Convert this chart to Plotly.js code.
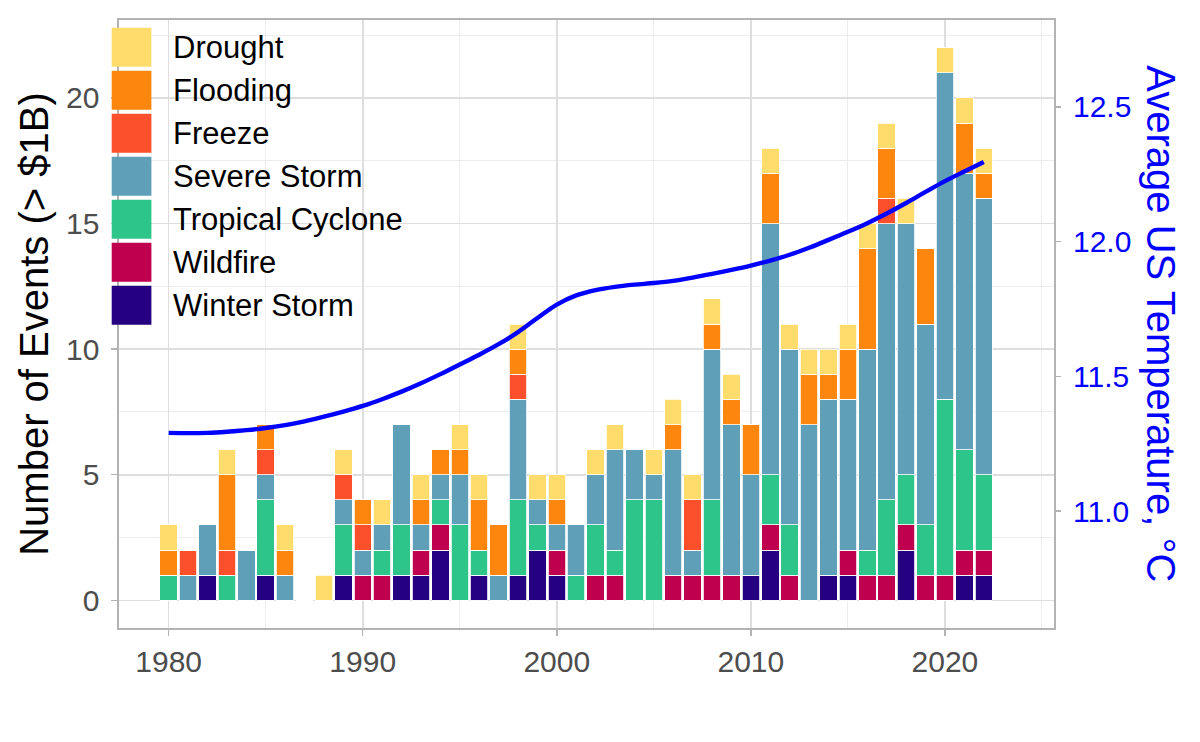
<!DOCTYPE html>
<html>
<head>
<meta charset="utf-8">
<script src="https://cdn.plot.ly/plotly-3.0.1.min.js"></script>
<style>html,body{margin:0;padding:0;background:#fff;}#chart{width:1200px;height:742px;}</style>
</head>
<body>
<div id="chart"></div>
<script>
const years = [1980,1981,1982,1983,1984,1985,1986,1987,1988,1989,1990,1991,1992,1993,1994,1995,1996,1997,1998,1999,2000,2001,2002,2003,2004,2005,2006,2007,2008,2009,2010,2011,2012,2013,2014,2015,2016,2017,2018,2019,2020,2021,2022];

const winterStorm     = [0,0,1,0,0,1,0,0,0,1, 0,0,1,1,2,0,1,0,1,2, 1,0,0,0,0,0,0,0,0,0, 1,2,0,0,1,1,0,0,2,0, 0,1,1];
const wildfire        = [0,0,0,0,0,0,0,0,0,0, 1,1,0,1,1,0,0,0,0,0, 1,0,1,1,0,0,1,1,1,1, 0,1,1,0,0,1,1,1,1,1, 1,1,1];
const tropicalCyclone = [1,0,0,1,0,3,0,0,0,2, 0,1,2,0,1,3,1,0,3,1, 0,1,2,1,4,4,0,0,3,0, 0,2,2,0,0,0,1,3,2,2, 7,4,3];
const severeStorm     = [0,1,2,0,2,1,1,0,0,1, 1,1,4,1,1,2,0,1,4,1, 1,2,2,4,2,1,5,1,6,6, 4,10,7,7,7,6,8,11,10,8, 13,11,11];
const freeze          = [0,1,0,1,0,1,0,0,0,1, 1,0,0,0,0,0,0,0,1,0, 0,0,0,0,0,0,0,2,0,0, 0,0,0,0,0,0,0,1,0,0, 0,0,0];
const flooding        = [1,0,0,3,0,1,1,0,0,0, 1,0,0,1,1,1,2,2,1,0, 1,0,0,0,0,0,1,0,1,1, 2,2,0,2,1,2,4,2,0,3, 0,2,1];
const drought         = [1,0,0,1,0,0,1,0,1,1, 0,1,0,1,0,1,1,0,1,1, 1,0,1,1,0,1,1,1,1,1, 0,1,1,1,1,1,1,1,1,0, 1,1,1];

const avgTemp = [11.290,11.289,11.290,11.294,11.300,11.308,11.319,11.333,11.350,11.369,
                 11.390,11.415,11.443,11.474,11.508,11.544,11.580,11.619,11.664,11.716,
                 11.766,11.800,11.820,11.832,11.840,11.846,11.854,11.866,11.880,11.895,
                 11.911,11.929,11.951,11.977,12.006,12.036,12.068,12.104,12.143,12.184,
                 12.224,12.260,12.295];

// legend order (top to bottom); stack order is the reverse
const categories = ["Drought","Flooding","Freeze","Severe Storm","Tropical Cyclone","Wildfire","Winter Storm"];
const seriesValues = [drought, flooding, freeze, severeStorm, tropicalCyclone, wildfire, winterStorm];
const colors = ["#FFDC6C","#FD870E","#FC4F2C","#5F9FB8","#2EC58A","#BF004E","#250080"];

const FONT = "Liberation Sans, Arial, Helvetica, sans-serif";

const traces = [];
for (let i = categories.length - 1; i >= 0; i--) {
  traces.push({
    type: "bar",
    name: categories[i],
    x: years,
    y: seriesValues[i],
    width: 0.9,
    marker: {color: colors[i], line: {color: "#FFFFFF", width: 0.8}},
    showlegend: false,
    hoverinfo: "x+y+name"
  });
}
traces.push({
  type: "scatter",
  mode: "lines",
  name: "Average US Temperature",
  x: years,
  y: avgTemp,
  yaxis: "y2",
  line: {color: "#0000FF", width: 4.4, shape: "spline", smoothing: 1},
  showlegend: false
});

// plot-area geometry (pixels)
const L = 119.3, R = 1054.3, T = 20, B = 627.7;
const W = R - L, H = B - T;
const px2x = p => (p - L) / W;
const px2y = p => (B - p) / H;

const shapes = [];
const annotations = [];
categories.forEach((c, i) => {
  const top = 27.7 + 43 * i;
  shapes.push({
    type: "rect", xref: "paper", yref: "paper", layer: "above",
    x0: px2x(112), x1: px2x(151.7), y0: px2y(top + 39), y1: px2y(top),
    fillcolor: colors[i], line: {width: 0}
  });
  annotations.push({
    xref: "paper", yref: "paper", x: px2x(171), y: px2y(top + 19.5),
    xanchor: "left", yanchor: "middle", showarrow: false,
    text: c, font: {family: FONT, size: 31, color: "#000000"}
  });
});
annotations.push({
  xref: "paper", yref: "paper", x: px2x(1161), y: 0.5,
  xanchor: "center", yanchor: "middle", showarrow: false, textangle: 90,
  text: "Average US Temperature, °C",
  font: {family: FONT, size: 40, color: "#0000FF"}
});

const layout = {
  width: 1200, height: 742,
  margin: {l: L, r: 1200 - R, t: T, b: 742 - B, pad: 0},
  paper_bgcolor: "#FFFFFF", plot_bgcolor: "#FFFFFF",
  barmode: "stack", bargap: 0,
  font: {family: FONT},
  showlegend: false,
  xaxis: {
    range: [1977.44, 2025.62],
    tickvals: [1980, 1990, 2000, 2010, 2020],
    ticktext: ["1980","1990","2000","2010","2020"],
    ticks: "outside", ticklen: 6, tickwidth: 1.5, tickcolor: "#B3B3B3",
    tickfont: {family: FONT, size: 30, color: "#4D4D4D"},
    showgrid: true, gridcolor: "#DEDEDE", gridwidth: 1.6,
    minor: {tickvals: [1985, 1995, 2005, 2015, 2025], showgrid: true, gridcolor: "#EBEBEB", gridwidth: 0.9, ticks: ""},
    showline: true, linecolor: "#B3B3B3", linewidth: 1.6, mirror: true,
    zeroline: false, fixedrange: true
  },
  yaxis: {
    range: [-1.1, 23.1],
    tickvals: [0, 5, 10, 15, 20],
    ticks: "outside", ticklen: 6, tickwidth: 1.5, tickcolor: "#B3B3B3",
    tickfont: {family: FONT, size: 30, color: "#4D4D4D"},
    ticklabelstandoff: 6,
    showgrid: true, gridcolor: "#DEDEDE", gridwidth: 1.6,
    minor: {tickvals: [2.5, 7.5, 12.5, 17.5, 22.5], showgrid: true, gridcolor: "#EBEBEB", gridwidth: 0.9, ticks: ""},
    showline: true, linecolor: "#B3B3B3", linewidth: 1.6, mirror: true,
    zeroline: false,
    title: {text: "Number of Events (> $1B)", font: {family: FONT, size: 40, color: "#000000"}, standoff: 5},
    automargin: false, fixedrange: true
  },
  yaxis2: {
    overlaying: "y", side: "right",
    range: [10.566, 12.822],
    tickvals: [11.0, 11.5, 12.0, 12.5],
    ticktext: ["11.0", "11.5", "12.0", "12.5"],
    ticks: "outside", ticklen: 6, tickwidth: 1.5, tickcolor: "#B3B3B3",
    tickfont: {family: FONT, size: 30, color: "#0000FF"},
    ticklabelstandoff: 6,
    showgrid: false, zeroline: false, showline: false,
    automargin: false, fixedrange: true
  },
  shapes: shapes,
  annotations: annotations
};

Plotly.newPlot("chart", traces, layout, {displayModeBar: false, staticPlot: true});
</script>
</body>
</html>
